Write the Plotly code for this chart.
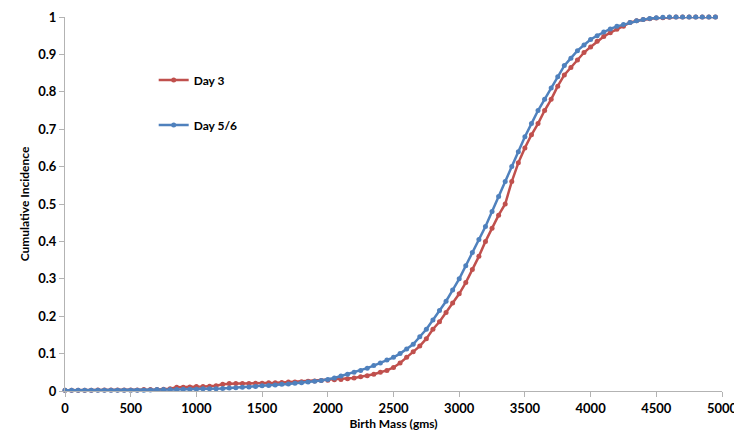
import plotly.graph_objects as go

# Birth mass grid (gms)
birth_mass = list(range(0, 5000, 50))

day3 = [
    0.002, 0.002, 0.002, 0.002, 0.002, 0.003, 0.003, 0.003, 0.003, 0.003,   # 0-450
    0.003, 0.003, 0.004, 0.004, 0.004, 0.005, 0.006, 0.010, 0.010, 0.011,   # 500-950
    0.012, 0.012, 0.013, 0.014, 0.018, 0.020, 0.020, 0.020, 0.020, 0.021,   # 1000-1450
    0.021, 0.022, 0.022, 0.023, 0.024, 0.024, 0.025, 0.026, 0.027, 0.028,   # 1500-1950
    0.029, 0.030, 0.031, 0.033, 0.035, 0.038, 0.041, 0.045, 0.050, 0.055,   # 2000-2450
    0.063, 0.075, 0.090, 0.105, 0.120, 0.140, 0.165, 0.185, 0.210, 0.235,   # 2500-2950
    0.260, 0.290, 0.325, 0.360, 0.400, 0.435, 0.470, 0.500, 0.560, 0.610,   # 3000-3450
    0.650, 0.685, 0.715, 0.750, 0.780, 0.815, 0.845, 0.865, 0.885, 0.905,   # 3500-3950
    0.920, 0.935, 0.948, 0.958, 0.967, 0.975, 0.985, 0.990, 0.993, 0.995,   # 4000-4450
    0.997, 0.998, 0.999, 1.000, 1.000, 1.000, 1.000, 1.000, 1.000, 1.000,   # 4500-4950
]

day56 = [
    0.002, 0.002, 0.002, 0.002, 0.002, 0.002, 0.002, 0.002, 0.002, 0.002,   # 0-450
    0.002, 0.002, 0.002, 0.003, 0.004, 0.004, 0.004, 0.004, 0.005, 0.005,   # 500-950
    0.005, 0.006, 0.006, 0.006, 0.007, 0.008, 0.009, 0.010, 0.011, 0.012,   # 1000-1450
    0.014, 0.015, 0.016, 0.018, 0.019, 0.021, 0.022, 0.024, 0.026, 0.028,   # 1500-1950
    0.031, 0.035, 0.040, 0.045, 0.050, 0.055, 0.061, 0.068, 0.075, 0.083,   # 2000-2450
    0.090, 0.100, 0.112, 0.125, 0.145, 0.165, 0.190, 0.215, 0.240, 0.270,   # 2500-2950
    0.300, 0.335, 0.370, 0.405, 0.440, 0.480, 0.520, 0.560, 0.600, 0.640,   # 3000-3450
    0.680, 0.715, 0.750, 0.780, 0.810, 0.840, 0.870, 0.890, 0.910, 0.925,   # 3500-3950
    0.940, 0.950, 0.960, 0.968, 0.975, 0.980, 0.985, 0.990, 0.993, 0.996,   # 4000-4450
    0.998, 0.999, 1.000, 1.000, 1.000, 1.000, 1.000, 1.000, 1.000, 1.000,   # 4500-4950
]

x_ticks = list(range(0, 5001, 500))
x_tick_labels = [str(v) for v in x_ticks]
y_ticks = [i / 10 for i in range(11)]
y_tick_labels = ["0", "0.1", "0.2", "0.3", "0.4", "0.5", "0.6", "0.7", "0.8", "0.9", "1"]

RED = "#C0504D"
BLUE = "#4F81BD"
FONT = "Lato"

fig = go.Figure()
fig.add_trace(go.Scatter(
    x=birth_mass, y=day3, name="Day 3", mode="lines+markers",
    line=dict(color=RED, width=2.5), marker=dict(color=RED, size=5, symbol="circle"),
    legendgroup="a", cliponaxis=False,
))
fig.add_trace(go.Scatter(
    x=birth_mass, y=day56, name="Day 5/6", mode="lines+markers",
    line=dict(color=BLUE, width=2.5), marker=dict(color=BLUE, size=5, symbol="circle"),
    legendgroup="b", cliponaxis=False,
))

axis_common = dict(
    showgrid=False, zeroline=False, showline=True, linecolor="#B3B3B3", linewidth=1,
    ticks="outside", ticklen=5, tickcolor="#B3B3B3",
    tickfont=dict(family=FONT, size=13, color="black", weight="bold"),
)

fig.update_layout(
    width=742, height=434,
    margin=dict(l=57, r=28, t=9, b=51),
    paper_bgcolor="white", plot_bgcolor="white",
    font=dict(family=FONT, color="black"),
    xaxis=dict(
        range=[0, 5000], tickvals=x_ticks, ticktext=x_tick_labels,
        title=dict(text="Birth Mass (gms)", font=dict(family=FONT, size=12, color="black", weight="bold"), standoff=4),
        automargin=False,
        **axis_common,
    ),
    yaxis=dict(
        range=[0, 1], tickvals=y_ticks, ticktext=y_tick_labels,
        title=dict(text="Cumulative Incidence", font=dict(family=FONT, size=12, color="black", weight="bold"), standoff=6),
        automargin=False,
        **axis_common,
    ),
    legend=dict(
        x=0.135, y=0.87, xanchor="left", yanchor="top",
        bgcolor="rgba(0,0,0,0)", tracegroupgap=26,
        font=dict(family=FONT, size=12, color="black", weight="bold"),
    ),
    showlegend=True,
)

fig.write_html("out.html")
